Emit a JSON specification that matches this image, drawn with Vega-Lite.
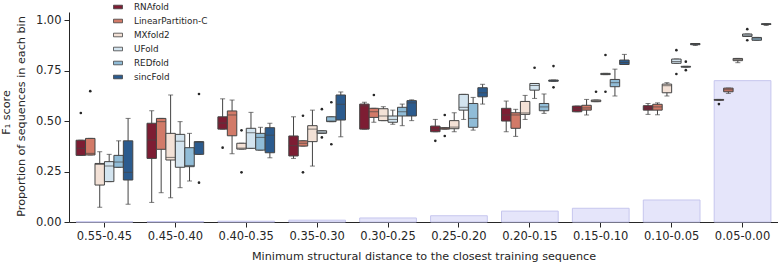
{
  "$schema": "https://vega.github.io/schema/vega-lite/v6.json",
  "width": 709,
  "height": 210,
  "autosize": {"type": "none"},
  "padding": {"left": 69, "top": 12, "right": 0, "bottom": 43},
  "config": {
    "view": {"stroke": null},
    "font": "DejaVu Sans",
    "axis": {
      "grid": false,
      "labelFont": "DejaVu Sans",
      "labelFontSize": 11.5,
      "labelColor": "#262626",
      "tickColor": "#262626",
      "domainColor": "#262626",
      "tickSize": 5,
      "labelPadding": 3,
      "titleFont": "DejaVu Sans",
      "titleFontSize": 11.2,
      "titleFontWeight": "normal",
      "titleColor": "#262626"
    }
  },
  "resolve": {"axis": {"y": "independent"}},
  "datasets": {
    "prop": [
      {"bin": "0.55-0.45", "prop": 0.001},
      {"bin": "0.45-0.40", "prop": 0.002},
      {"bin": "0.40-0.35", "prop": 0.004},
      {"bin": "0.35-0.30", "prop": 0.009},
      {"bin": "0.30-0.25", "prop": 0.020},
      {"bin": "0.25-0.20", "prop": 0.031},
      {"bin": "0.20-0.15", "prop": 0.054},
      {"bin": "0.15-0.10", "prop": 0.068},
      {"bin": "0.10-0.05", "prop": 0.109},
      {"bin": "0.05-0.00", "prop": 0.700}
    ],
    "box": [
      {"bin": "0.55-0.45", "method": "RNAfold", "lo": 0.33, "q1": 0.33, "med": 0.365, "q3": 0.405, "hi": 0.405},
      {"bin": "0.55-0.45", "method": "LinearPartition-C", "lo": 0.332, "q1": 0.332, "med": 0.34, "q3": 0.414, "hi": 0.414},
      {"bin": "0.55-0.45", "method": "MXfold2", "lo": 0.073, "q1": 0.183, "med": 0.285, "q3": 0.29, "hi": 0.348},
      {"bin": "0.55-0.45", "method": "UFold", "lo": 0.2, "q1": 0.2, "med": 0.277, "q3": 0.299, "hi": 0.335},
      {"bin": "0.55-0.45", "method": "REDfold", "lo": 0.271, "q1": 0.271, "med": 0.297, "q3": 0.33, "hi": 0.402},
      {"bin": "0.55-0.45", "method": "sincFold", "lo": 0.088, "q1": 0.208, "med": 0.246, "q3": 0.402, "hi": 0.513},

      {"bin": "0.45-0.40", "method": "RNAfold", "lo": 0.097, "q1": 0.315, "med": 0.406, "q3": 0.489, "hi": 0.551},
      {"bin": "0.45-0.40", "method": "LinearPartition-C", "lo": 0.145, "q1": 0.36, "med": 0.497, "q3": 0.513, "hi": 0.513},
      {"bin": "0.45-0.40", "method": "MXfold2", "lo": 0.12, "q1": 0.307, "med": 0.32, "q3": 0.439, "hi": 0.629},
      {"bin": "0.45-0.40", "method": "UFold", "lo": 0.17, "q1": 0.271, "med": 0.40, "q3": 0.434, "hi": 0.497},
      {"bin": "0.45-0.40", "method": "REDfold", "lo": 0.203, "q1": 0.274, "med": 0.28, "q3": 0.368, "hi": 0.439},
      {"bin": "0.45-0.40", "method": "sincFold", "lo": 0.335, "q1": 0.335, "med": 0.395, "q3": 0.398, "hi": 0.398},

      {"bin": "0.40-0.35", "method": "RNAfold", "lo": 0.46, "q1": 0.46, "med": 0.49, "q3": 0.521, "hi": 0.61},
      {"bin": "0.40-0.35", "method": "LinearPartition-C", "lo": 0.338, "q1": 0.427, "med": 0.53, "q3": 0.55, "hi": 0.604},
      {"bin": "0.40-0.35", "method": "MXfold2", "lo": 0.361, "q1": 0.361, "med": 0.366, "q3": 0.39, "hi": 0.39},
      {"bin": "0.40-0.35", "method": "UFold", "lo": 0.365, "q1": 0.365, "med": 0.442, "q3": 0.464, "hi": 0.543},
      {"bin": "0.40-0.35", "method": "REDfold", "lo": 0.356, "q1": 0.356, "med": 0.419, "q3": 0.439, "hi": 0.469},
      {"bin": "0.40-0.35", "method": "sincFold", "lo": 0.318, "q1": 0.343, "med": 0.43, "q3": 0.467, "hi": 0.489},

      {"bin": "0.35-0.30", "method": "RNAfold", "lo": 0.315, "q1": 0.327, "med": 0.378, "q3": 0.426, "hi": 0.521},
      {"bin": "0.35-0.30", "method": "LinearPartition-C", "lo": 0.376, "q1": 0.376, "med": 0.39, "q3": 0.402, "hi": 0.402},
      {"bin": "0.35-0.30", "method": "MXfold2", "lo": 0.277, "q1": 0.398, "med": 0.46, "q3": 0.477, "hi": 0.554},
      {"bin": "0.35-0.30", "method": "UFold", "lo": 0.439, "q1": 0.439, "med": 0.445, "q3": 0.452, "hi": 0.452},
      {"bin": "0.35-0.30", "method": "REDfold", "lo": 0.497, "q1": 0.497, "med": 0.50, "q3": 0.521, "hi": 0.521},
      {"bin": "0.35-0.30", "method": "sincFold", "lo": 0.422, "q1": 0.505, "med": 0.583, "q3": 0.629, "hi": 0.644},

      {"bin": "0.30-0.25", "method": "RNAfold", "lo": 0.46, "q1": 0.46, "med": 0.575, "q3": 0.584, "hi": 0.593},
      {"bin": "0.30-0.25", "method": "LinearPartition-C", "lo": 0.494, "q1": 0.518, "med": 0.546, "q3": 0.563, "hi": 0.563},
      {"bin": "0.30-0.25", "method": "MXfold2", "lo": 0.502, "q1": 0.502, "med": 0.525, "q3": 0.561, "hi": 0.571},
      {"bin": "0.30-0.25", "method": "UFold", "lo": 0.484, "q1": 0.494, "med": 0.508, "q3": 0.525, "hi": 0.554},
      {"bin": "0.30-0.25", "method": "REDfold", "lo": 0.477, "q1": 0.525, "med": 0.546, "q3": 0.568, "hi": 0.584},
      {"bin": "0.30-0.25", "method": "sincFold", "lo": 0.502, "q1": 0.525, "med": 0.59, "q3": 0.601, "hi": 0.605},

      {"bin": "0.25-0.20", "method": "RNAfold", "lo": 0.447, "q1": 0.447, "med": 0.46, "q3": 0.475, "hi": 0.508},
      {"bin": "0.25-0.20", "method": "LinearPartition-C", "lo": 0.46, "q1": 0.46, "med": 0.464, "q3": 0.467, "hi": 0.467},
      {"bin": "0.25-0.20", "method": "MXfold2", "lo": 0.447, "q1": 0.462, "med": 0.47, "q3": 0.502, "hi": 0.541},
      {"bin": "0.25-0.20", "method": "UFold", "lo": 0.508, "q1": 0.554, "med": 0.568, "q3": 0.632, "hi": 0.632},
      {"bin": "0.25-0.20", "method": "REDfold", "lo": 0.455, "q1": 0.469, "med": 0.513, "q3": 0.587, "hi": 0.617},
      {"bin": "0.25-0.20", "method": "sincFold", "lo": 0.584, "q1": 0.62, "med": 0.64, "q3": 0.665, "hi": 0.682},

      {"bin": "0.20-0.15", "method": "RNAfold", "lo": 0.447, "q1": 0.5, "med": 0.53, "q3": 0.563, "hi": 0.599},
      {"bin": "0.20-0.15", "method": "LinearPartition-C", "lo": 0.424, "q1": 0.464, "med": 0.53, "q3": 0.541, "hi": 0.558},
      {"bin": "0.20-0.15", "method": "MXfold2", "lo": 0.508, "q1": 0.533, "med": 0.54, "q3": 0.597, "hi": 0.627},
      {"bin": "0.20-0.15", "method": "UFold", "lo": 0.612, "q1": 0.653, "med": 0.676, "q3": 0.686, "hi": 0.686},
      {"bin": "0.20-0.15", "method": "REDfold", "lo": 0.538, "q1": 0.551, "med": 0.57, "q3": 0.587, "hi": 0.634},
      {"bin": "0.20-0.15", "method": "sincFold", "lo": 0.697, "q1": 0.697, "med": 0.70, "q3": 0.703, "hi": 0.703},

      {"bin": "0.15-0.10", "method": "RNAfold", "lo": 0.546, "q1": 0.546, "med": 0.56, "q3": 0.574, "hi": 0.574},
      {"bin": "0.15-0.10", "method": "LinearPartition-C", "lo": 0.53, "q1": 0.554, "med": 0.565, "q3": 0.578, "hi": 0.607},
      {"bin": "0.15-0.10", "method": "MXfold2", "lo": 0.596, "q1": 0.596, "med": 0.60, "q3": 0.604, "hi": 0.604},
      {"bin": "0.15-0.10", "method": "UFold", "lo": 0.73, "q1": 0.73, "med": 0.733, "q3": 0.736, "hi": 0.736},
      {"bin": "0.15-0.10", "method": "REDfold", "lo": 0.624, "q1": 0.67, "med": 0.69, "q3": 0.706, "hi": 0.757},
      {"bin": "0.15-0.10", "method": "sincFold", "lo": 0.78, "q1": 0.78, "med": 0.79, "q3": 0.802, "hi": 0.83},

      {"bin": "0.10-0.05", "method": "RNAfold", "lo": 0.533, "q1": 0.554, "med": 0.565, "q3": 0.576, "hi": 0.587},
      {"bin": "0.10-0.05", "method": "LinearPartition-C", "lo": 0.531, "q1": 0.554, "med": 0.57, "q3": 0.583, "hi": 0.59},
      {"bin": "0.10-0.05", "method": "MXfold2", "lo": 0.624, "q1": 0.64, "med": 0.675, "q3": 0.683, "hi": 0.69},
      {"bin": "0.10-0.05", "method": "UFold", "lo": 0.786, "q1": 0.786, "med": 0.795, "q3": 0.807, "hi": 0.807},
      {"bin": "0.10-0.05", "method": "REDfold", "lo": 0.767, "q1": 0.767, "med": 0.769, "q3": 0.771, "hi": 0.771},
      {"bin": "0.10-0.05", "method": "sincFold", "lo": 0.874, "q1": 0.878, "med": 0.881, "q3": 0.884, "hi": 0.884},

      {"bin": "0.05-0.00", "method": "RNAfold", "lo": 0.603, "q1": 0.603, "med": 0.605, "q3": 0.607, "hi": 0.607},
      {"bin": "0.05-0.00", "method": "LinearPartition-C", "lo": 0.637, "q1": 0.645, "med": 0.655, "q3": 0.663, "hi": 0.663},
      {"bin": "0.05-0.00", "method": "MXfold2", "lo": 0.789, "q1": 0.799, "med": 0.805, "q3": 0.81, "hi": 0.81},
      {"bin": "0.05-0.00", "method": "UFold", "lo": 0.919, "q1": 0.919, "med": 0.925, "q3": 0.931, "hi": 0.931},
      {"bin": "0.05-0.00", "method": "REDfold", "lo": 0.9, "q1": 0.9, "med": 0.907, "q3": 0.914, "hi": 0.914},
      {"bin": "0.05-0.00", "method": "sincFold", "lo": 0.973, "q1": 0.978, "med": 0.98, "q3": 0.982, "hi": 0.982}
    ],
    "out": [
      {"bin": "0.55-0.45", "method": "RNAfold", "v": 0.54},
      {"bin": "0.55-0.45", "method": "LinearPartition-C", "v": 0.648},
      {"bin": "0.45-0.40", "method": "sincFold", "v": 0.634},
      {"bin": "0.45-0.40", "method": "sincFold", "v": 0.195},
      {"bin": "0.40-0.35", "method": "RNAfold", "v": 0.368},
      {"bin": "0.40-0.35", "method": "MXfold2", "v": 0.454},
      {"bin": "0.40-0.35", "method": "MXfold2", "v": 0.246},
      {"bin": "0.35-0.30", "method": "LinearPartition-C", "v": 0.526},
      {"bin": "0.35-0.30", "method": "LinearPartition-C", "v": 0.246},
      {"bin": "0.35-0.30", "method": "UFold", "v": 0.559},
      {"bin": "0.35-0.30", "method": "UFold", "v": 0.419},
      {"bin": "0.35-0.30", "method": "REDfold", "v": 0.593},
      {"bin": "0.35-0.30", "method": "REDfold", "v": 0.385},
      {"bin": "0.30-0.25", "method": "LinearPartition-C", "v": 0.629},
      {"bin": "0.25-0.20", "method": "RNAfold", "v": 0.402},
      {"bin": "0.25-0.20", "method": "LinearPartition-C", "v": 0.53},
      {"bin": "0.25-0.20", "method": "LinearPartition-C", "v": 0.426},
      {"bin": "0.20-0.15", "method": "UFold", "v": 0.764},
      {"bin": "0.20-0.15", "method": "sincFold", "v": 0.772},
      {"bin": "0.20-0.15", "method": "sincFold", "v": 0.667},
      {"bin": "0.15-0.10", "method": "MXfold2", "v": 0.645},
      {"bin": "0.15-0.10", "method": "UFold", "v": 0.827},
      {"bin": "0.15-0.10", "method": "UFold", "v": 0.645},
      {"bin": "0.10-0.05", "method": "UFold", "v": 0.851},
      {"bin": "0.10-0.05", "method": "UFold", "v": 0.733},
      {"bin": "0.10-0.05", "method": "REDfold", "v": 0.794},
      {"bin": "0.10-0.05", "method": "REDfold", "v": 0.752},
      {"bin": "0.05-0.00", "method": "RNAfold", "v": 0.584},
      {"bin": "0.05-0.00", "method": "UFold", "v": 0.955},
      {"bin": "0.05-0.00", "method": "UFold", "v": 0.9}
    ]
  },
  "encoding": {
    "x": {
      "field": "bin",
      "type": "nominal",
      "sort": ["0.55-0.45", "0.45-0.40", "0.40-0.35", "0.35-0.30", "0.30-0.25", "0.25-0.20", "0.20-0.15", "0.15-0.10", "0.10-0.05", "0.05-0.00"],
      "scale": {"paddingInner": 0.2, "paddingOuter": 0.1},
      "axis": {"labelAngle": 0, "title": "Minimum structural distance to the closest training sequence", "titlePadding": 9}
    }
  },
  "layer": [
    {
      "data": {"name": "prop"},
      "mark": {"type": "bar", "fill": "#e5e5fa", "stroke": "#c6c6ee", "strokeWidth": 1},
      "encoding": {
        "y": {
          "field": "prop",
          "type": "quantitative",
          "scale": {"domain": [0, 1.04], "nice": false},
          "axis": {
            "orient": "left",
            "values": [0, 0.25, 0.5, 0.75, 1.0],
            "format": ".2f",
            "title": "Proportion of sequences in each bin",
            "titlePadding": 9,
            "titleAlign": "center",
            "titleY": 104
          }
        }
      }
    },
    {
      "data": {"name": "box"},
      "mark": {"type": "rule", "color": "#444444", "strokeWidth": 1},
      "encoding": {
        "xOffset": {"field": "method", "type": "nominal", "sort": ["RNAfold", "LinearPartition-C", "MXfold2", "UFold", "REDfold", "sincFold"], "scale": {"paddingInner": 0, "paddingOuter": 0}},
        "y": {"field": "lo", "type": "quantitative", "axis": null},
        "y2": {"field": "hi"}
      }
    },
    {
      "data": {"name": "box"},
      "mark": {"type": "tick", "color": "#444444", "thickness": 1, "size": 5, "orient": "horizontal"},
      "encoding": {
        "xOffset": {"field": "method", "type": "nominal", "sort": ["RNAfold", "LinearPartition-C", "MXfold2", "UFold", "REDfold", "sincFold"]},
        "y": {"field": "lo", "type": "quantitative", "axis": null}
      }
    },
    {
      "data": {"name": "box"},
      "mark": {"type": "tick", "color": "#444444", "thickness": 1, "size": 5, "orient": "horizontal"},
      "encoding": {
        "xOffset": {"field": "method", "type": "nominal", "sort": ["RNAfold", "LinearPartition-C", "MXfold2", "UFold", "REDfold", "sincFold"]},
        "y": {"field": "hi", "type": "quantitative", "axis": null}
      }
    },
    {
      "data": {"name": "box"},
      "mark": {"type": "bar", "stroke": "#444444", "strokeWidth": 1},
      "encoding": {
        "xOffset": {"field": "method", "type": "nominal", "sort": ["RNAfold", "LinearPartition-C", "MXfold2", "UFold", "REDfold", "sincFold"]},
        "y": {"field": "q1", "type": "quantitative", "axis": null},
        "y2": {"field": "q3"},
        "color": {
          "field": "method",
          "type": "nominal",
          "scale": {
            "domain": ["RNAfold", "LinearPartition-C", "MXfold2", "UFold", "REDfold", "sincFold"],
            "range": ["#7d1d33", "#d27a68", "#f3e1d6", "#d3e4ef", "#90bcd7", "#2b5b8e"]
          },
          "legend": {
            "title": null,
            "orient": "none",
            "legendX": 44,
            "legendY": -10,
            "symbolType": "M-1,-0.4H1V0.4H-1Z",
            "symbolSize": 81,
            "symbolStrokeColor": "#444444",
            "symbolStrokeWidth": 0.8,
            "symbolOpacity": 1,
            "labelFont": "DejaVu Sans",
            "labelFontSize": 8.8,
            "labelColor": "#262626",
            "labelOffset": 11,
            "rowPadding": 4
          }
        }
      }
    },
    {
      "data": {"name": "box"},
      "mark": {"type": "tick", "color": "#444444", "thickness": 1, "size": 9.4, "orient": "horizontal"},
      "encoding": {
        "xOffset": {"field": "method", "type": "nominal", "sort": ["RNAfold", "LinearPartition-C", "MXfold2", "UFold", "REDfold", "sincFold"]},
        "y": {"field": "med", "type": "quantitative", "axis": null}
      }
    },
    {
      "data": {"name": "out"},
      "mark": {"type": "circle", "color": "#262626", "size": 7, "opacity": 1},
      "encoding": {
        "xOffset": {"field": "method", "type": "nominal", "sort": ["RNAfold", "LinearPartition-C", "MXfold2", "UFold", "REDfold", "sincFold"]},
        "y": {
          "field": "v",
          "type": "quantitative",
          "axis": {
            "orient": "left",
            "title": "F₁ score",
            "labels": false,
            "ticks": false,
            "domain": false,
            "offset": 50,
            "titlePadding": 8,
            "titleAlign": "center",
            "titleY": 100
          }
        }
      }
    }
  ]
}
